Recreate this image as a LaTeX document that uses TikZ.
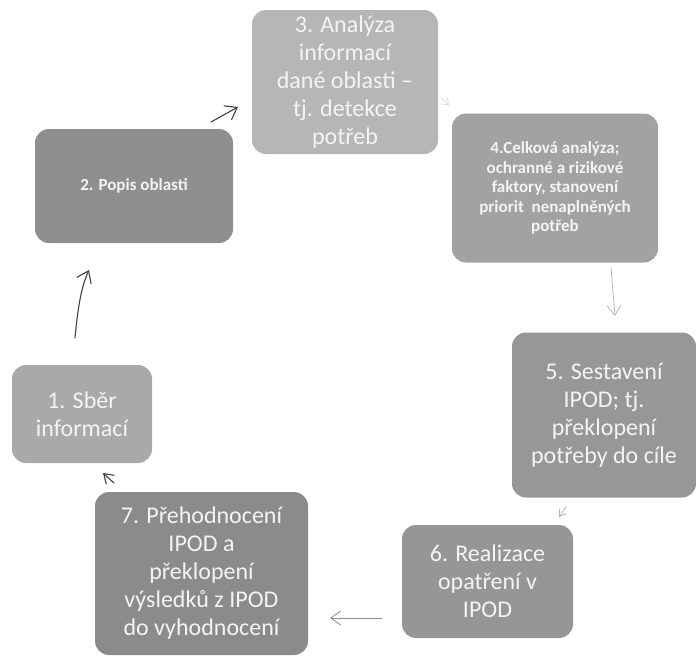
\documentclass[tikz,border=0pt]{standalone}
\usepackage{fontspec}
\setmainfont{Carlito}
\usetikzlibrary{arrows.meta}
\definecolor{txtw}{HTML}{F4F4F4}
\definecolor{cA}{HTML}{A9A9A9}
\definecolor{cB}{HTML}{8F8F8F}
\definecolor{cC}{HTML}{B6B6B6}
\definecolor{cD}{HTML}{A2A2A2}
\definecolor{cE}{HTML}{979797}
\definecolor{cF}{HTML}{969696}
\definecolor{cG}{HTML}{8B8B8B}
\tikzset{
  stepbox/.style={rectangle, rounded corners=14pt, draw=none, text=txtw, align=center, inner sep=0pt},
  bigtxt/.style={font=\fontsize{24}{28}\selectfont},
  smalltxt/.style={font=\fontsize{17}{19.5}\selectfont},
  handarrow/.style={line width=1.1pt, line cap=round, -{Straight Barb[length=11pt,width=16pt,line width=1.1pt]}},
  darkarrow/.style={handarrow, draw=black!75},
  lightarrow/.style={line width=0.8pt, line cap=round, -{Straight Barb[length=10pt,width=14pt,line width=0.8pt]}},
}
\begin{document}
\begin{tikzpicture}[x=1pt,y=-1pt]
\useasboundingbox (0,0) rectangle (696,657);
% boxes
\node[stepbox, fill=cA, minimum width=140pt, minimum height=98pt, bigtxt] (s1) at (82,414) {1. Sběr\\informací};
\node[stepbox, fill=cB, minimum width=198pt, minimum height=114pt, smalltxt] (s2) at (134,186) {\bfseries 2. Popis oblasti};
\node[stepbox, fill=cC, minimum width=186pt, minimum height=144pt, bigtxt] (s3) at (345,82) {3. Analýza\\informací\\dané oblasti –\\tj. detekce\\potřeb};
\node[stepbox, fill=cD, minimum width=206pt, minimum height=149pt, smalltxt] (s4) at (555,188) {\bfseries 4.Celková analýza;\\\bfseries ochranné a rizikové\\\bfseries faktory, stanovení\\\bfseries priorit\ \ nenaplněných\\\bfseries potřeb};
\node[stepbox, fill=cE, minimum width=184pt, minimum height=165pt, bigtxt] (s5) at (604,415) {5. Sestavení\\IPOD; tj.\\překlopení\\potřeby do cíle};
\node[stepbox, fill=cF, minimum width=171pt, minimum height=113pt, bigtxt] (s6) at (487.5,581.5) {6. Realizace\\opatření v\\IPOD};
\node[stepbox, fill=cG, minimum width=213pt, minimum height=163pt, bigtxt] (s7) at (201.5,573.5) {7. Přehodnocení\\IPOD a\\překlopení\\výsledků z IPOD\\do vyhodnocení};
% arrow end points
\coordinate (a1s) at (75,338);  \coordinate (a1e) at (89,270);
\coordinate (a2s) at (211,122); \coordinate (a2e) at (238,107);
\coordinate (a3s) at (441,98);  \coordinate (a3e) at (449,105);
\coordinate (a4s) at (611,268); \coordinate (a4e) at (615,316);
\coordinate (a5s) at (566,507); \coordinate (a5e) at (559,517);
\coordinate (a6s) at (382,618); \coordinate (a6e) at (330,618);
\coordinate (a7s) at (114,483); \coordinate (a7e) at (103,473);
% arrows
\draw[darkarrow] (a1s) .. controls (78,305) and (82,285) .. (a1e);
\draw[darkarrow] (a2s) -- (a2e);
\draw[lightarrow, draw=black!15, -{Straight Barb[length=6pt,width=9pt]}] (a3s) -- (a3e);
\draw[lightarrow, draw=black!30] (a4s) -- (a4e);
\draw[lightarrow, draw=black!30, -{Straight Barb[length=6pt,width=8pt]}] (a5s) -- (a5e);
\draw[lightarrow, draw=black!45] (a6s) -- (a6e);
\draw[darkarrow, -{Straight Barb[length=9pt,width=12pt,line width=1.1pt]}] (a7s) -- (a7e);
\end{tikzpicture}
\end{document}
